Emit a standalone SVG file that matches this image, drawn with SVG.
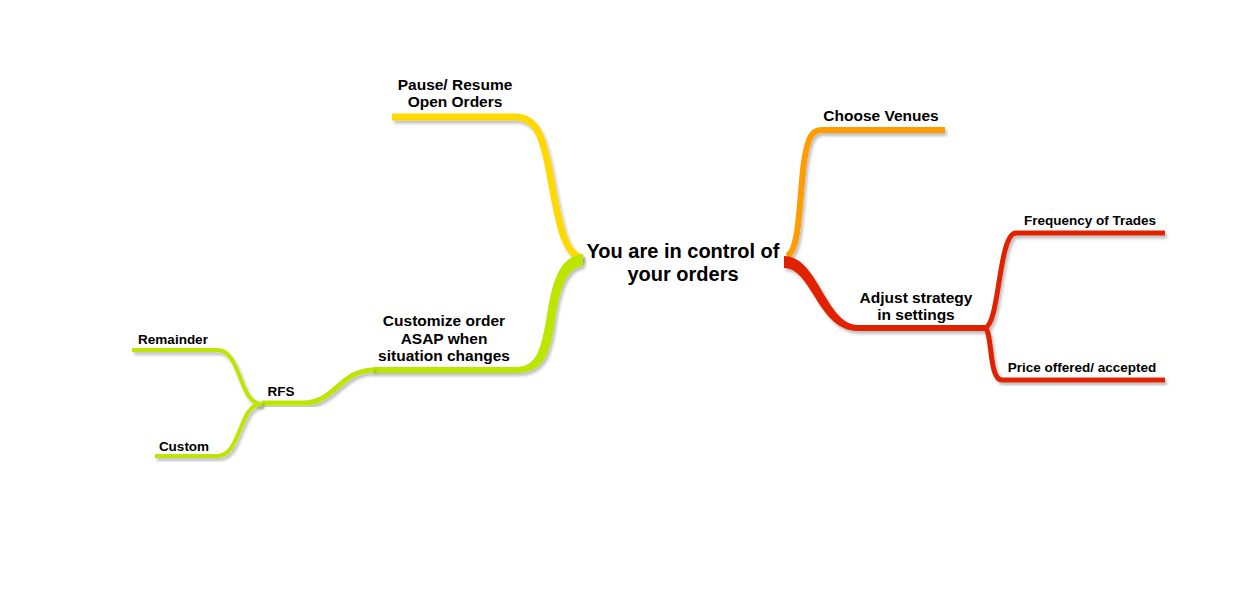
<svg xmlns="http://www.w3.org/2000/svg" width="1246" height="594" viewBox="0 0 1246 594">
<defs>
<filter id="sh" x="-10%" y="-10%" width="120%" height="120%">
<feDropShadow dx="2" dy="3" stdDeviation="1.5" flood-color="#000" flood-opacity="0.25"/>
</filter>
<style>
.c{fill:none;stroke-linecap:butt;stroke-linejoin:round;filter:url(#sh)}
.f{stroke:none;filter:url(#sh)}
.y{stroke:#ffd800}
.g{stroke:#bce600}
.gf{fill:#bce600}
.o{stroke:#ff9c00}
.r{stroke:#e02000}
.rf{fill:#e02000}
text{font-family:"Liberation Sans",Arial,sans-serif;font-weight:bold;fill:#000;text-anchor:middle}
.t0{font-size:20px}
.t1{font-size:15.5px}
.t2{font-size:13.5px}
</style>
</defs>
<rect width="1246" height="594" fill="#fff"/>
<g id="connectors">
<path class="c y" stroke-width="7" d="M392,117 H515 C538,117 544,140 551,180 C559,225 565,256 583,258"/>
<path class="f gf" d="M583,254 C558,256 552,285 547,315 C541,350 537,367 515,367 H373 V373 H515 C544,373 550,355 555,320 C559,295 564,268 583,266 Z"/>
<path class="c g" stroke-width="5" d="M374,370 C340,370 335,403 303,403 H262"/>
<path class="c g" stroke-width="4" d="M132,350 H217 C242,350 238,404 262,404"/>
<path class="c g" stroke-width="4" d="M155,456 H217 C242,456 238,404 262,404"/>
<path class="c o" stroke-width="6" d="M787,256 C800,250 799,200 804,162 C808,136 812,130 822,130 H945"/>
<path class="f rf" d="M784,256 C818,256 826,325 858,325 H985 V331 H858 C818,331 812,268 784,268 Z"/>
<path class="c r" stroke-width="5" d="M984,328 C1000,328 998,233 1016,233 H1165"/>
<path class="c r" stroke-width="5" d="M984,328 C993,328 988,380 1002,380 H1165"/>
</g>
<g id="center"><text class="t0" x="683" y="258">You are in control of</text><text class="t0" x="683" y="281">your orders</text></g>
<g id="pause"><text class="t1" x="455" y="90">Pause/ Resume</text><text class="t1" x="455" y="107">Open Orders</text></g>
<g id="customize"><text class="t1" x="444" y="326">Customize order</text><text class="t1" x="444" y="344">ASAP when</text><text class="t1" x="444" y="361">situation changes</text></g>
<g id="rfs"><text class="t2" x="281" y="396">RFS</text></g>
<g id="remainder"><text class="t2" x="173" y="344">Remainder</text></g>
<g id="custom"><text class="t2" x="184" y="451">Custom</text></g>
<g id="venues"><text class="t1" x="881" y="121">Choose Venues</text></g>
<g id="adjust"><text class="t1" x="916" y="303">Adjust strategy</text><text class="t1" x="916" y="320">in settings</text></g>
<g id="frequency"><text class="t2" x="1090" y="225">Frequency of Trades</text></g>
<g id="price"><text class="t2" x="1082" y="372">Price offered/ accepted</text></g>
</svg>
